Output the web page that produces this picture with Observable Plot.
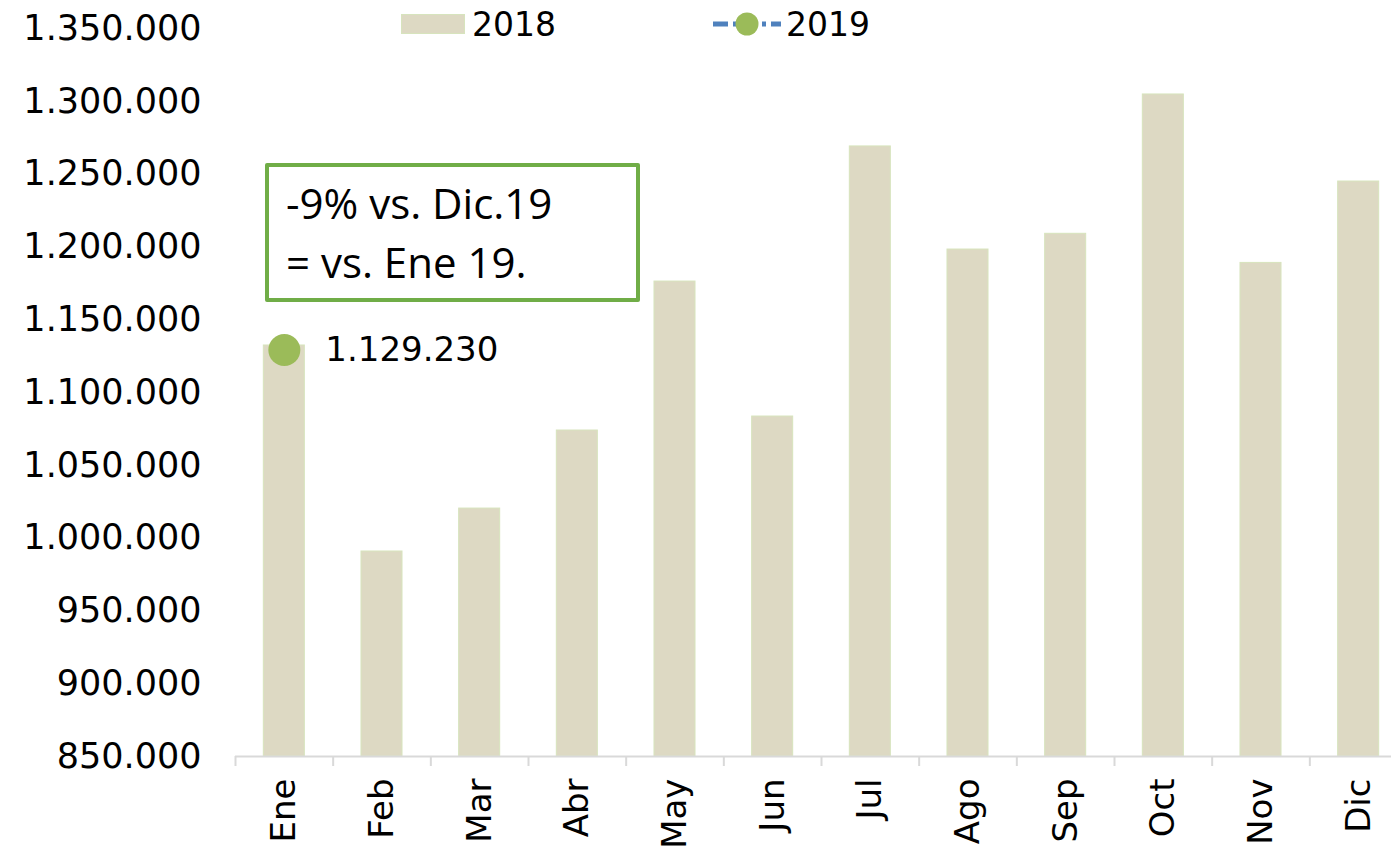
<!DOCTYPE html>
<html>
<head>
<meta charset="utf-8">
<script src="https://cdn.jsdelivr.net/npm/d3@7"></script>
<script src="https://cdn.jsdelivr.net/npm/@observablehq/plot@0.6"></script>
<style>
  html, body { margin: 0; padding: 0; background: #fff; }
  #wrap { position: relative; width: 1391px; height: 855px; overflow: hidden; }
  .legend { position: absolute; font-family: "DejaVu Sans", sans-serif; font-size: 33px; color: #000; display: flex; align-items: center; }
  .note { position: absolute; left: 265px; top: 163px; width: 375px; height: 139px; border: 4px solid #70ad47; border-radius: 2px;
          font-family: "Open Sans", sans-serif; font-size: 42px; line-height: 59px; padding: 6px 0 0 17px; box-sizing: border-box; background: #fff; letter-spacing: 0px; }
</style>
</head>
<body>
<div id="wrap"></div>
<script>
const months = ["Ene","Feb","Mar","Abr","May","Jun","Jul","Ago","Sep","Oct","Nov","Dic"];
const values2018 = [1132300, 990800, 1020300, 1073900, 1176200, 1083500, 1269000, 1198200, 1209000, 1304700, 1189000, 1244900];
const months2019 = ["Ene"];
const values2019 = [1129230];
const yTicks = [850000, 900000, 950000, 1000000, 1050000, 1100000, 1150000, 1200000, 1250000, 1300000, 1350000];

const data2018 = months.map((m, i) => ({month: m, value: values2018[i]}));
const data2019 = months2019.map((m, i) => ({month: m, value: values2019[i]}));
const fmt = d => d3.format(",")(d).replace(/,/g, ".");

const W = 1391, H = 855;
const xRange = [235, 1407];
const step = (xRange[1] - xRange[0]) / months.length;

const chart = Plot.plot({
  width: W,
  height: H,
  marginTop: 28,
  marginBottom: 99,
  marginLeft: 235,
  marginRight: 0,
  style: {fontFamily: "DejaVu Sans, sans-serif", background: "transparent", color: "#000"},
  x: {domain: months, range: xRange, paddingInner: 0.58, paddingOuter: 0.29, round: false, axis: null},
  y: {domain: [850000, 1350000], axis: null},
  marks: [
    Plot.barY(data2018, {x: "month", y1: 850000, y2: "value", fill: "#ddd9c3", stroke: "#d7e4bd", strokeWidth: 1}),
    Plot.ruleY([850000], {stroke: "#d9d9d9", strokeWidth: 2}),
    Plot.ruleX(months, {x: d => d, dx: -step / 2, y1: 850000, y2: 850000, insetBottom: -10, stroke: "#d9d9d9", strokeWidth: 2}),
    Plot.axisY({ticks: yTicks, tickFormat: fmt, tickSize: 0, tickPadding: 34, fontSize: 35, label: null}),
    Plot.axisX({tickRotate: -90, tickSize: 0, tickPadding: 22, fontSize: 34, label: null}),
    Plot.line(data2019, {x: "month", y: "value", stroke: "#4f81bd", strokeWidth: 5, strokeDasharray: "15 5 4 5"}),
    Plot.dot(data2019, {x: "month", y: "value", r: 16, fill: "#9bbb59", stroke: "none"}),
    Plot.text(data2019, {x: "month", y: "value", text: d => fmt(d.value), dx: 41, textAnchor: "start", fontSize: 34})
  ]
});
const wrap = document.getElementById("wrap");
wrap.appendChild(chart);

// Legend
const leg = document.createElement("div");
leg.innerHTML = `
  <div class="legend" style="left:401px; top:4px; height:40px;">
    <span style="display:inline-block;width:64px;height:20px;background:#ddd9c3;border:1px solid #d7e4bd;box-sizing:border-box;"></span>
    <span style="margin-left:7px;">2018</span>
  </div>
  <div class="legend" style="left:713px; top:4px; height:40px;">
    <svg width="68" height="40" style="display:block">
      <line x1="0" y1="20" x2="68" y2="20" stroke="#4f81bd" stroke-width="5" stroke-dasharray="15 5 4 5"/>
      <circle cx="34" cy="20" r="11.5" fill="#9bbb59"/>
    </svg>
    <span style="margin-left:5px;">2019</span>
  </div>`;
wrap.appendChild(leg);

// Annotation
const note = document.createElement("div");
note.className = "note";
note.innerHTML = "-9% vs. Dic.19<br>= vs. Ene 19.";
wrap.appendChild(note);
</script>
</body>
</html>
